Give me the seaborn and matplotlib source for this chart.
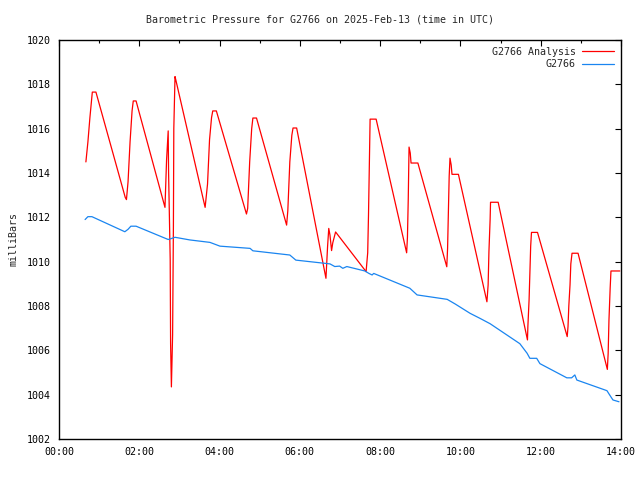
import pandas as pd
import numpy as np
import matplotlib
matplotlib.use("Agg")
import matplotlib.pyplot as plt
from matplotlib.ticker import MultipleLocator, FuncFormatter
import seaborn as sns

# analysis series (hours UTC, millibars)
analysis_time = [
    0.67, 0.72, 0.77, 0.83, 0.92, 1.65, 1.68, 1.72, 1.77, 1.82, 1.85, 1.92,
    2.64, 2.68, 2.72, 2.73, 2.77, 2.78, 2.80, 2.83, 2.85, 2.86, 2.89, 2.91,
    3.64, 3.70, 3.75, 3.80, 3.83, 3.92, 4.67, 4.70, 4.75, 4.80, 4.83, 4.92,
    5.67, 5.70, 5.75, 5.80, 5.83, 5.92, 6.65, 6.69, 6.72, 6.75, 6.79, 6.82,
    6.89, 7.65, 7.69, 7.71, 7.75, 7.90, 8.66, 8.68, 8.70, 8.72, 8.75, 8.77,
    8.94, 9.66, 9.68, 9.70, 9.72, 9.74, 9.77, 9.79, 9.95, 10.66, 10.69, 10.71,
    10.74, 10.75, 10.94, 11.67, 11.68, 11.71, 11.73, 11.75, 11.77, 11.92,
    12.66, 12.68, 12.70, 12.73, 12.75, 12.78, 12.93, 13.66, 13.68, 13.70,
    13.73, 13.75, 13.97,
]
analysis_mbar = [
    1014.5, 1015.4, 1016.5, 1017.65, 1017.65, 1012.9, 1012.8, 1013.6, 1015.4, 1016.8, 1017.25, 1017.25,
    1012.45, 1014.6, 1015.9, 1014.0, 1010.1, 1006.3, 1004.35, 1006.7, 1011.6, 1016.0, 1018.35, 1018.2,
    1012.45, 1013.5, 1015.5, 1016.5, 1016.8, 1016.8, 1012.15, 1012.4, 1014.5, 1016.0, 1016.48, 1016.48,
    1011.65, 1012.3, 1014.5, 1015.7, 1016.03, 1016.03, 1009.25, 1010.67, 1011.5, 1011.2, 1010.5, 1010.85,
    1011.34, 1009.55, 1010.4, 1012.1, 1016.43, 1016.43, 1010.4, 1011.1, 1012.8, 1015.17, 1014.9, 1014.45,
    1014.45, 1009.77, 1010.6, 1012.25, 1013.86, 1014.67, 1014.36, 1013.94, 1013.94, 1008.19, 1008.95, 1010.45,
    1011.92, 1012.68, 1012.68, 1006.47, 1007.07, 1008.27, 1009.47, 1010.7, 1011.32, 1011.32,
    1006.62, 1007.07, 1008.0, 1008.95, 1009.9, 1010.38, 1010.38, 1005.14, 1005.86, 1007.36,
    1008.8, 1009.58, 1009.58,
]

# station observations
station_time = [
    0.65, 0.72, 0.82, 1.64, 1.72, 1.79, 1.92, 2.72, 2.81, 2.89, 3.26, 3.76,
    4.01, 4.76, 4.83, 5.75, 5.90, 6.75, 6.87, 6.99, 7.07, 7.17, 7.62, 7.72,
    7.80, 7.84, 8.74, 8.92, 9.67, 9.87, 10.24, 10.49, 10.74, 11.48, 11.66, 11.73,
    11.90, 11.98, 12.65, 12.77, 12.85, 12.90, 13.65, 13.72, 13.80, 13.95,
]
station_mbar = [
    1011.9, 1012.03, 1012.03, 1011.35, 1011.46, 1011.6, 1011.6, 1011.0, 1011.05, 1011.1, 1010.98, 1010.87,
    1010.7, 1010.6, 1010.49, 1010.3, 1010.07, 1009.9, 1009.78, 1009.8, 1009.7, 1009.78, 1009.58, 1009.47,
    1009.4, 1009.47, 1008.8, 1008.5, 1008.3, 1008.09, 1007.67, 1007.44, 1007.2, 1006.3, 1005.87, 1005.64,
    1005.64, 1005.4, 1004.76, 1004.76, 1004.89, 1004.66, 1004.18, 1003.98, 1003.76, 1003.68,
]

title = "Barometric Pressure for G2766 on 2025-Feb-13 (time in UTC)"

sns.set_style("white")
plt.rcParams['font.family'] = ['DejaVu Sans Mono']
plt.rcParams['font.size'] = 7.2

analysis = pd.DataFrame({'t': analysis_time, 'p': analysis_mbar})
station = pd.DataFrame({'t': station_time, 'p': station_mbar})

fig = plt.figure(figsize=(6.4, 4.8), dpi=100)
ax = fig.add_axes([59 / 640, 1 - 439 / 480, 562 / 640, 399 / 480])

sns.lineplot(data=analysis, x='t', y='p', ax=ax, color='#ff0000', linewidth=0.9,
             sort=False, estimator=None, label='G2766 Analysis')
sns.lineplot(data=station, x='t', y='p', ax=ax, color='#1a85f0', linewidth=0.9,
             sort=False, estimator=None, label='G2766')

ax.set_xlim(0, 14)
ax.set_ylim(1002, 1020)
ax.xaxis.set_major_locator(MultipleLocator(2))
ax.xaxis.set_minor_locator(MultipleLocator(1))
ax.yaxis.set_major_locator(MultipleLocator(2))
ax.xaxis.set_major_formatter(FuncFormatter(lambda v, pos: f"{int(round(v)):02d}:00"))
ax.tick_params(which='both', direction='in', top=True, right=True, colors='black', labelsize=7.2)
ax.tick_params(which='major', length=4.5, width=0.8, pad=6)
ax.tick_params(which='minor', length=2.5, width=0.8)
for side in ax.spines.values():
    side.set_color('black')
    side.set_linewidth(1.0)

ax.set_xlabel('')
ax.set_ylabel('milliBars', labelpad=6)
fig.text(0.5, 1 - 20 / 480, title, ha='center', va='center', fontsize=7.2)

leg = ax.legend(loc='upper right', frameon=False, markerfirst=False,
                handlelength=3.2, handletextpad=0.6, labelspacing=0.25,
                borderaxespad=0.3, fontsize=7.2)

fig.savefig('out.png', dpi=100)
